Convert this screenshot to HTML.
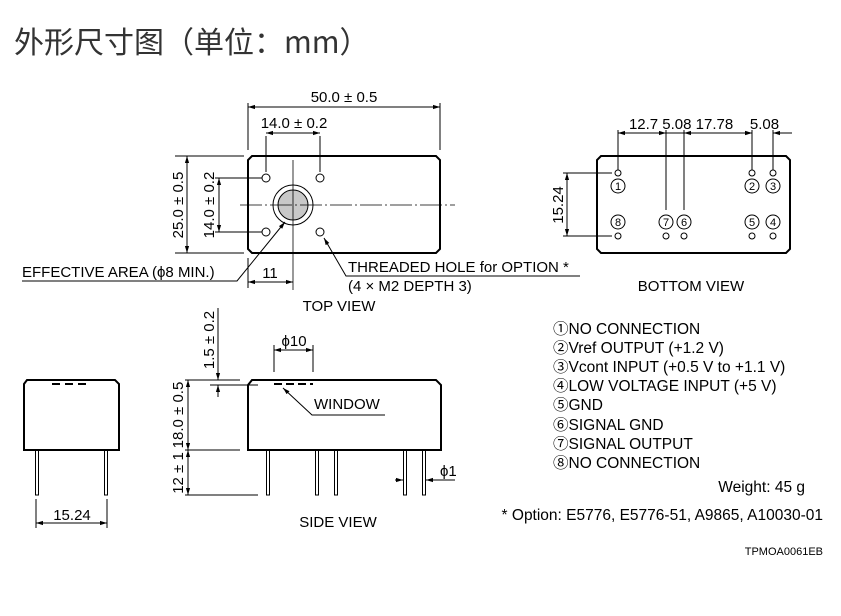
<!DOCTYPE html>
<html><head><meta charset="utf-8"><style>
html,body{margin:0;padding:0;background:#fff;}
svg{display:block;font-family:"Liberation Sans","Noto Sans CJK SC",sans-serif;}
</style></head><body>
<svg width="841" height="616" viewBox="0 0 841 616" xmlns="http://www.w3.org/2000/svg">
<defs>
<marker id="a" viewBox="0 0 10 10" refX="10" refY="5" markerWidth="7" markerHeight="7" orient="auto-start-reverse"><path d="M0,2 L10,5 L0,8 z" fill="#000"/></marker>
</defs>
<text x="14" y="53" font-size="30" fill="#333" font-family="'Noto Sans CJK SC',sans-serif">外形尺寸图（单位：mm）</text>
<g stroke="#000" fill="none" stroke-width="1">
<path d="M252,156 H436 L440,160 V249 L436,253 H252 L248,249 V160 Z" stroke-width="2"/>
<circle cx="266" cy="178" r="4"/><circle cx="320" cy="178" r="4"/><circle cx="266" cy="232" r="4"/><circle cx="320" cy="232" r="4"/>
<circle cx="293" cy="205" r="20"/><circle cx="293" cy="205" r="15" fill="#c8c8c8"/>
<path d="M240,205 H455" stroke-dasharray="22,3,2,3" stroke-width="0.8"/>
<path d="M293,160 V290" stroke-width="0.8"/>
<path d="M248,103 V150 M440,103 V150 M266,136 V172 M320,136 V172"/>
<path d="M248,107 H440" marker-start="url(#a)" marker-end="url(#a)"/>
<path d="M266,133 H320" marker-start="url(#a)" marker-end="url(#a)"/>
<path d="M175,156 H244 M175,253 H244 M215,178 H262 M215,232 H262"/>
<path d="M187,156 V253" marker-start="url(#a)" marker-end="url(#a)"/>
<path d="M219,178 V232" marker-start="url(#a)" marker-end="url(#a)"/>
<path d="M248,258 V288"/>
<path d="M248,282 H293" marker-start="url(#a)" marker-end="url(#a)"/>
<path d="M22,281 H237 L285,222" marker-end="url(#a)"/>
<path d="M580,276 H346 L324,238" marker-end="url(#a)"/>
<path d="M601,156 H786 L790,160 V249 L786,253 H601 L597,249 V160 Z" stroke-width="2"/>
<g stroke-width="1">
<circle cx="618" cy="173" r="3"/><circle cx="752" cy="173" r="3"/><circle cx="773" cy="173" r="3"/>
<circle cx="618" cy="236" r="3"/><circle cx="666" cy="236" r="3"/><circle cx="684" cy="236" r="3"/><circle cx="752" cy="236" r="3"/><circle cx="773" cy="236" r="3"/>
<circle cx="618" cy="186" r="7"/><circle cx="752" cy="186" r="7"/><circle cx="773" cy="186" r="7"/>
<circle cx="618" cy="222" r="7"/><circle cx="666" cy="222" r="7"/><circle cx="684" cy="222" r="7"/><circle cx="752" cy="222" r="7"/><circle cx="773" cy="222" r="7"/>
</g>
<path d="M618,130 V170 M666,130 V210 M684,130 V210 M752,130 V170 M773,130 V170"/>
<path d="M618,133 H666" marker-start="url(#a)" marker-end="url(#a)"/>
<path d="M684,133 H752" marker-start="url(#a)" marker-end="url(#a)"/>
<path d="M740,133 H752" marker-end="url(#a)"/><path d="M792,133 H773" marker-end="url(#a)"/>
<path d="M666,133 H684"/>
<path d="M563,173 H612 M563,236 H612"/>
<path d="M567,173 V236" marker-start="url(#a)" marker-end="url(#a)"/>
<path d="M27,380 H115 L119,384 V450 H24 V384 Z" stroke-width="2"/>
<path d="M52,384 H90" stroke-dasharray="8,5" stroke-width="2"/>
<rect x="35.5" y="450" width="3" height="45"/><rect x="104.5" y="450" width="3" height="45"/>
<path d="M36,499 V528 M107,499 V528"/>
<path d="M36,523 H107" marker-start="url(#a)" marker-end="url(#a)"/>
<path d="M252,380 H436 L441,385 V450 H248 V385 Z" stroke-width="2"/>
<path d="M274,384 H313" stroke-dasharray="8,4" stroke-width="2"/>
<rect x="266.5" y="450" width="3" height="45"/><rect x="315.5" y="450" width="3" height="45"/><rect x="334.5" y="450" width="3" height="45"/><rect x="403.5" y="450" width="3" height="45"/><rect x="422.5" y="450" width="3" height="45"/>
<path d="M274,345 V372 M313,345 V372"/>
<path d="M274,350 H313" marker-start="url(#a)" marker-end="url(#a)"/>
<path d="M455,480 H426" marker-end="url(#a)"/>
<path d="M395,480 H403" marker-end="url(#a)"/>
<path d="M283,388 L312,415 H385" marker-start="url(#a)"/>
<path d="M185,380 H240 M210,385 H258 M185,450 H240 M185,495 H258"/>
<path d="M218,308 V380" marker-end="url(#a)"/>
<path d="M218,397 V385" marker-end="url(#a)"/>
<path d="M188,380 V450" marker-start="url(#a)" marker-end="url(#a)"/>
<path d="M188,450 V495" marker-start="url(#a)" marker-end="url(#a)"/>
</g>
<g font-size="15" fill="#000">
<text x="344" y="102" text-anchor="middle">50.0 ± 0.5</text>
<text x="294" y="128" text-anchor="middle">14.0 ± 0.2</text>
<text transform="translate(183,205) rotate(-90)" text-anchor="middle">25.0 ± 0.5</text>
<text transform="translate(214,205) rotate(-90)" text-anchor="middle">14.0 ± 0.2</text>
<text x="270" y="278" text-anchor="middle">11</text>
<text x="22" y="277">EFFECTIVE AREA (ϕ8 MIN.)</text>
<text x="348" y="272">THREADED HOLE for OPTION *</text>
<text x="348" y="291">(4 × M2 DEPTH 3)</text>
<text x="339" y="311" text-anchor="middle">TOP VIEW</text>
<text x="704" y="129" text-anchor="middle">12.7 5.08 17.78&#160;&#160;&#160; 5.08</text>
<text transform="translate(563,205) rotate(-90)" text-anchor="middle">15.24</text>
<text x="691" y="291" text-anchor="middle">BOTTOM VIEW</text>
<text x="72" y="520" text-anchor="middle">15.24</text>
<text x="294" y="346" text-anchor="middle">ϕ10</text>
<text x="314" y="409">WINDOW</text>
<text x="440" y="476">ϕ1</text>
<text transform="translate(214,340) rotate(-90)" text-anchor="middle">1.5 ± 0.2</text>
<text transform="translate(183,415) rotate(-90)" text-anchor="middle">18.0 ± 0.5</text>
<text transform="translate(183,473) rotate(-90)" text-anchor="middle">12 ± 1</text>
<text x="338" y="527" text-anchor="middle">SIDE VIEW</text>
</g>
<g font-size="11" fill="#000" text-anchor="middle">
<text x="618" y="190">1</text><text x="752" y="190">2</text><text x="773" y="190">3</text>
<text x="618" y="226">8</text><text x="666" y="226">7</text><text x="684" y="226">6</text><text x="752" y="226">5</text><text x="773" y="226">4</text>
</g>
<g font-size="15.5" fill="#000">
<text x="553" y="334">①NO CONNECTION</text>
<text x="553" y="353">②Vref OUTPUT (+1.2 V)</text>
<text x="553" y="372">③Vcont INPUT (+0.5 V to +1.1 V)</text>
<text x="553" y="391">④LOW VOLTAGE INPUT (+5 V)</text>
<text x="553" y="410">⑤GND</text>
<text x="553" y="430">⑥SIGNAL GND</text>
<text x="553" y="449">⑦SIGNAL OUTPUT</text>
<text x="553" y="468">⑧NO CONNECTION</text>
<text x="805" y="492" text-anchor="end">Weight: 45 g</text>
<text x="823" y="520" text-anchor="end">* Option: E5776, E5776-51, A9865, A10030-01</text>
</g>
<text x="823" y="555" text-anchor="end" font-size="11">TPMOA0061EB</text>
</svg>
</body></html>
